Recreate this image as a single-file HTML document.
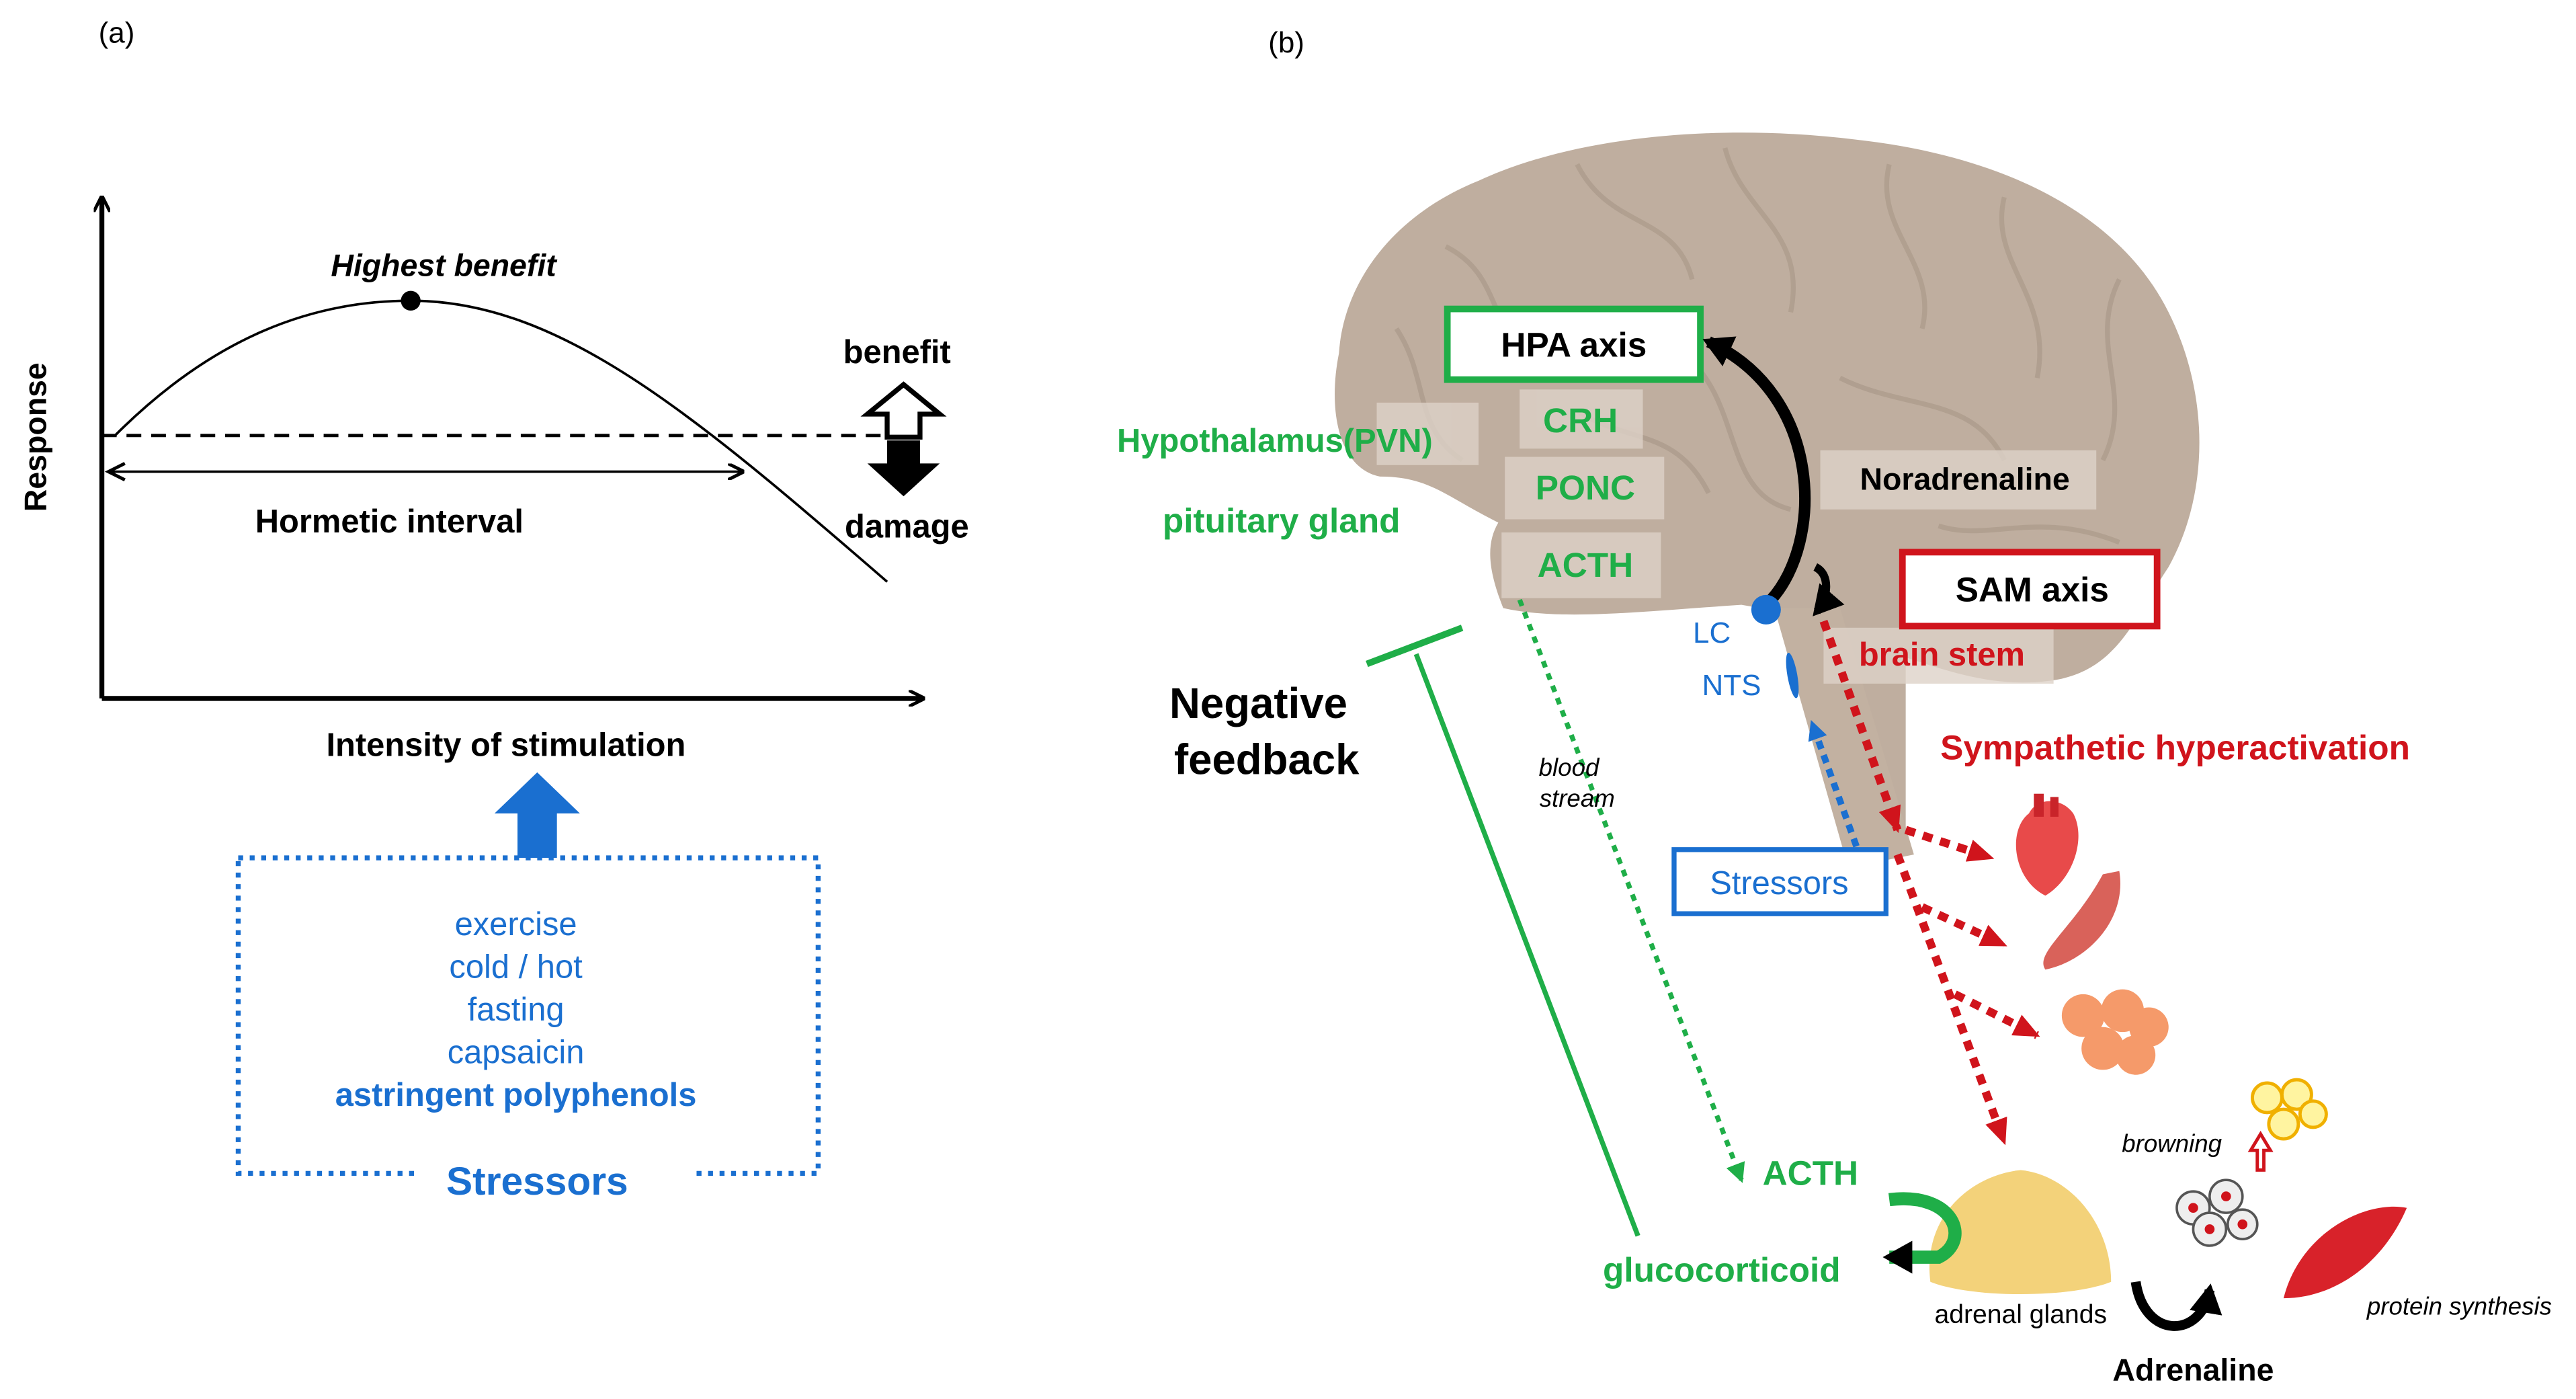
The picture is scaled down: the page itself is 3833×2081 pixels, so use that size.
<!DOCTYPE html>
<html><head><meta charset="utf-8"><style>
html,body{margin:0;padding:0;background:#fff}
svg{display:block}
text{font-family:"Liberation Sans",Arial,sans-serif}
</style></head><body>
<svg width="3833" height="2081" viewBox="0 0 1568 851.3" preserveAspectRatio="none" xmlns="http://www.w3.org/2000/svg">
<defs>
<marker id="ab" markerWidth="10" markerHeight="10" refX="9" refY="5" orient="auto" markerUnits="userSpaceOnUse"><path d="M0,0 L10,5 L0,10" fill="none" stroke="#000" stroke-width="2"/></marker>
<marker id="ar" markerWidth="16" markerHeight="14" refX="14" refY="7" orient="auto" markerUnits="userSpaceOnUse"><path d="M0,0 L16,7 L0,14Z" fill="#d0141c"/></marker>
<marker id="ag" markerWidth="12" markerHeight="12" refX="10" refY="6" orient="auto" markerUnits="userSpaceOnUse"><path d="M0,0 L12,6 L0,12Z" fill="#1fae48"/></marker>
<marker id="abl" markerWidth="12" markerHeight="12" refX="10" refY="6" orient="auto" markerUnits="userSpaceOnUse"><path d="M0,0 L12,6 L0,12Z" fill="#1a6fd0"/></marker>
<marker id="ak" markerWidth="20" markerHeight="20" refX="14" refY="10" orient="auto" markerUnits="userSpaceOnUse"><path d="M0,0 L18,10 L0,20Z" fill="#000"/></marker>
</defs>
<!-- Panel a -->
<text x="60" y="26" font-size="18">(a)</text>
<line x1="62" y1="425" x2="62" y2="120" stroke="#000" stroke-width="3" marker-end="url(#ab)"/>
<line x1="62" y1="425" x2="562" y2="425" stroke="#000" stroke-width="3" marker-end="url(#ab)"/>
<text x="28" y="266" font-size="19" font-weight="bold" transform="rotate(-90 28 266)" text-anchor="middle">Response</text>
<path d="M70,265 C130,205 190,183 250,183 C340,183 420,250 540,354" fill="none" stroke="#000" stroke-width="1.5"/>
<circle cx="250" cy="183" r="6" fill="#000"/>
<text x="270" y="168" font-size="19" font-weight="bold" font-style="italic" text-anchor="middle">Highest benefit</text>
<line x1="62" y1="265" x2="540" y2="265" stroke="#000" stroke-width="2" stroke-dasharray="9,6"/>
<line x1="66" y1="287" x2="452" y2="287" stroke="#000" stroke-width="1.5" marker-end="url(#ab)"/>
<path d="M76,282 L66,287 L76,292" fill="none" stroke="#000" stroke-width="2"/>
<text x="237" y="324" font-size="20" font-weight="bold" text-anchor="middle">Hormetic interval</text>
<text x="546" y="221" font-size="20" font-weight="bold" text-anchor="middle">benefit</text>
<path d="M540,268 L560,268 L560,282 L572,282 L550,302 L528,282 L540,282Z" fill="#000"/>
<path d="M550,234 L572,252 L560,252 L560,266 L540,266 L540,252 L528,252Z" fill="#fff" stroke="#000" stroke-width="3"/>
<text x="552" y="327" font-size="20" font-weight="bold" text-anchor="middle">damage</text>
<text x="308" y="460" font-size="20" font-weight="bold" text-anchor="middle">Intensity of stimulation</text>
<path d="M315,522 L315,495 L301,495 L327,470 L353,495 L339,495 L339,522Z" fill="#1a6fd0"/>
<rect x="145" y="522" width="353" height="192" fill="none" stroke="#1a6fd0" stroke-width="3" stroke-dasharray="3,4"/>
<rect x="252" y="704" width="170" height="22" fill="#fff"/>
<g fill="#1a6fd0" font-size="20" text-anchor="middle">
<text x="314" y="569">exercise</text>
<text x="314" y="595">cold / hot</text>
<text x="314" y="621">fasting</text>
<text x="314" y="647">capsaicin</text>
<text x="314" y="673" font-weight="bold">astringent polyphenols</text>
<text x="327" y="727" font-weight="bold" font-size="24">Stressors</text>
</g>
<!-- Panel b -->
<text x="772" y="32" font-size="18">(b)</text>
<path d="M915,370 C905,345 905,330 912,318 C880,302 870,290 840,290 C815,285 808,250 815,215 C818,170 850,130 900,110 C960,82 1050,75 1130,85 C1220,95 1290,130 1320,190 C1345,240 1345,300 1320,345 C1300,375 1290,405 1255,413 C1220,420 1190,410 1160,400 L1160,520 L1130,525 L1100,375 L1060,368 C1000,372 950,378 915,370Z" fill="#bfae9f"/>
<path d="M1080,370 L1120,370 L1165,520 L1125,528Z" fill="#c2b1a1"/>
<g fill="none" stroke="#ab9a8a" stroke-width="3" opacity="0.7">
<path d="M880,150 C920,170 900,210 950,220"/><path d="M960,100 C980,140 1020,130 1030,170"/><path d="M1050,90 C1060,130 1100,140 1090,190"/>
<path d="M1150,100 C1140,140 1180,160 1170,200"/><path d="M1220,120 C1210,160 1250,180 1240,230"/><path d="M1290,170 C1270,210 1300,240 1280,280"/>
<path d="M1120,230 C1160,250 1200,240 1220,280"/><path d="M1030,220 C1060,250 1050,300 1090,310"/><path d="M960,250 C990,270 1020,260 1040,300"/>
<path d="M1180,320 C1210,330 1240,310 1290,330"/><path d="M850,200 C870,230 860,260 890,280"/>
</g>
<g fill="#ddd2c8" opacity="0.8">
<rect x="925" y="237" width="75" height="36"/><rect x="916" y="278" width="97" height="38"/><rect x="914" y="324" width="97" height="40"/>
<rect x="1108" y="274" width="168" height="36"/><rect x="1110" y="382" width="140" height="34"/><rect x="838" y="245" width="62" height="38"/>
</g>
<rect x="881" y="188" width="154" height="43" fill="#fff" stroke="#1fae48" stroke-width="4"/>
<text x="958" y="217" font-size="21" font-weight="bold" text-anchor="middle">HPA axis</text>
<g fill="#1fae48" font-weight="bold" font-size="21" text-anchor="middle">
<text x="962" y="263">CRH</text><text x="965" y="304">PONC</text><text x="965" y="351">ACTH</text>
<text x="776" y="275" font-size="20">Hypothalamus(PVN)</text>
<text x="780" y="324">pituitary gland</text>
<text x="1102" y="721">ACTH</text>
<text x="1048" y="780">glucocorticoid</text>
</g>
<text x="1196" y="298" font-size="19" font-weight="bold" text-anchor="middle">Noradrenaline</text>
<rect x="1158" y="336" width="155" height="45" fill="#fff" stroke="#d0141c" stroke-width="4"/>
<text x="1237" y="366" font-size="21" font-weight="bold" text-anchor="middle">SAM axis</text>
<text x="1182" y="405" font-size="20" font-weight="bold" fill="#d0141c" text-anchor="middle">brain stem</text>
<text x="1324" y="462" font-size="21" font-weight="bold" fill="#d0141c" text-anchor="middle">Sympathetic hyperactivation</text>
<path d="M1078,365 C1110,330 1110,240 1040,208" fill="none" stroke="#000" stroke-width="7" marker-end="url(#ak)"/>
<path d="M1105,345 C1115,350 1112,365 1106,372" fill="none" stroke="#000" stroke-width="5" marker-end="url(#ak)"/>
<circle cx="1075" cy="371" r="9" fill="#1a6fd0"/>
<ellipse cx="1091" cy="411" rx="3" ry="14" fill="#1a6fd0" transform="rotate(-10 1091 411)"/>
<text x="1042" y="391" font-size="18" fill="#1a6fd0" text-anchor="middle">LC</text>
<text x="1054" y="423" font-size="18" fill="#1a6fd0" text-anchor="middle">NTS</text>
<line x1="1130" y1="515" x2="1103" y2="440" stroke="#1a6fd0" stroke-width="4" stroke-dasharray="5,4" marker-end="url(#abl)"/>
<rect x="1019" y="517" width="129" height="39" fill="#fff" stroke="#1a6fd0" stroke-width="3"/>
<text x="1083" y="544" font-size="20" fill="#1a6fd0" text-anchor="middle">Stressors</text>
<g stroke="#d0141c" stroke-width="5" stroke-dasharray="6,5" fill="none">
<line x1="1110" y1="378" x2="1155" y2="505" marker-end="url(#ar)"/>
<line x1="1160" y1="505" x2="1212" y2="522" marker-end="url(#ar)"/>
<line x1="1155" y1="520" x2="1220" y2="695" marker-end="url(#ar)"/>
<line x1="1170" y1="552" x2="1220" y2="575" marker-end="url(#ar)"/>
<line x1="1190" y1="605" x2="1240" y2="630" marker-end="url(#ar)"/>
</g>
<path d="M1245,545 C1225,535 1222,505 1235,495 C1240,485 1255,485 1262,495 C1270,510 1262,535 1245,545Z" fill="#e84a4a"/>
<rect x="1238" y="483" width="6" height="14" fill="#c9242a"/><rect x="1248" y="485" width="5" height="12" fill="#c9242a"/>
<path d="M1290,530 C1295,560 1270,585 1245,590 C1238,580 1262,565 1280,532Z" fill="#d9625a"/>
<g fill="#f59a6a"><circle cx="1268" cy="618" r="13"/><circle cx="1292" cy="615" r="13"/><circle cx="1308" cy="625" r="12"/><circle cx="1280" cy="638" r="13"/><circle cx="1300" cy="642" r="12"/></g>
<g fill="#fff4a0" stroke="#f0b000" stroke-width="2"><circle cx="1380" cy="668" r="9"/><circle cx="1398" cy="666" r="9"/><circle cx="1390" cy="684" r="9"/><circle cx="1408" cy="678" r="8"/></g>
<path d="M1370,700 L1376,690 L1382,700 L1378,700 L1378,712 L1374,712 L1374,700Z" fill="#fff" stroke="#d0141c" stroke-width="2"/>
<text x="1322" y="701" font-size="15" font-style="italic" text-anchor="middle">browning</text>
<g fill="#eee" stroke="#555" stroke-width="1.5"><circle cx="1335" cy="735" r="10"/><circle cx="1355" cy="728" r="10"/><circle cx="1345" cy="748" r="10"/><circle cx="1365" cy="745" r="9"/></g>
<g fill="#d0141c"><circle cx="1335" cy="735" r="3"/><circle cx="1355" cy="728" r="3"/><circle cx="1345" cy="748" r="3"/><circle cx="1365" cy="745" r="3"/></g>
<path d="M1390,790 C1400,750 1440,730 1465,735 C1450,770 1420,790 1390,790Z" fill="#d8222a"/>
<text x="1497" y="800" font-size="15" font-style="italic" text-anchor="middle">protein synthesis</text>
<path d="M1175,780 C1170,740 1200,715 1230,712 C1260,715 1285,745 1285,780 C1260,790 1200,790 1175,780Z" fill="#f3d27a"/>
<text x="1230" y="805" font-size="16" text-anchor="middle">adrenal  glands</text>
<path d="M1300,780 C1305,815 1340,815 1345,785" fill="none" stroke="#000" stroke-width="6" marker-end="url(#ak)"/>
<text x="1335" y="840" font-size="19" font-weight="bold" text-anchor="middle">Adrenaline</text>
<path d="M1150,730 C1190,725 1200,755 1180,765 L1150,765" fill="none" stroke="#1fae48" stroke-width="8" marker-end="url(#ak)"/>
<line x1="925" y1="365" x2="1060" y2="718" stroke="#1fae48" stroke-width="3" stroke-dasharray="4,4" marker-end="url(#ag)"/>
<line x1="862" y1="398" x2="997" y2="752" stroke="#1fae48" stroke-width="3"/>
<line x1="832" y1="404" x2="890" y2="382" stroke="#1fae48" stroke-width="4"/>
<text x="955" y="472" font-size="15" font-style="italic" text-anchor="middle">blood</text>
<text x="960" y="491" font-size="15" font-style="italic" text-anchor="middle">stream</text>
<text x="766" y="437" font-size="26" font-weight="bold" text-anchor="middle">Negative</text>
<text x="771" y="471" font-size="26" font-weight="bold" text-anchor="middle">feedback</text>
</svg>
</body></html>
